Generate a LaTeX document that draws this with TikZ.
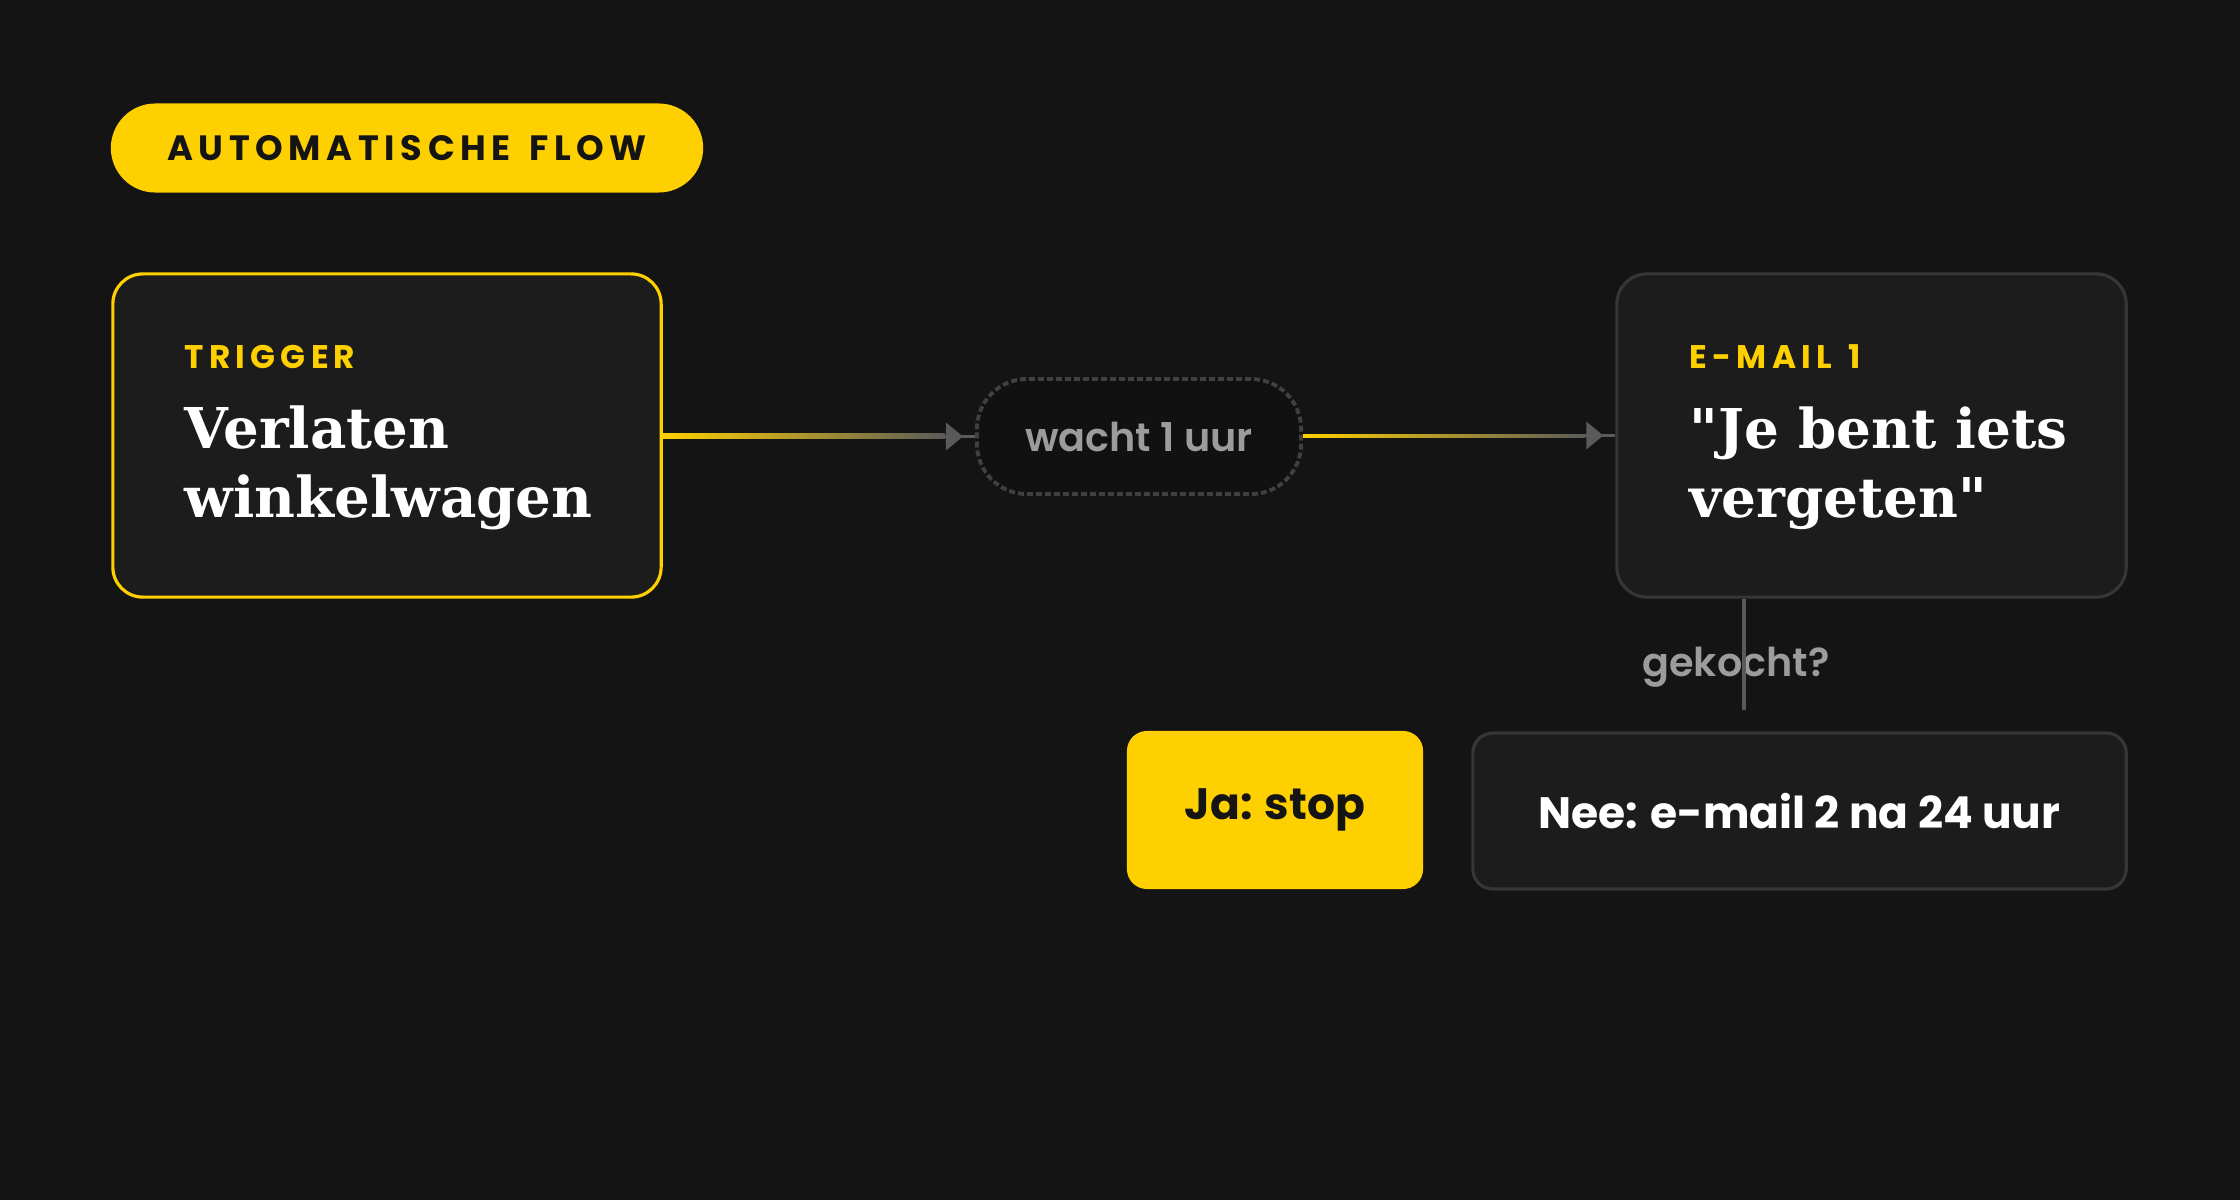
\documentclass[tikz,border=0pt]{standalone}
\usepackage{fontspec}
\setmainfont{DejaVu Serif}
\setsansfont{Poppins}
\newfontfamily\tagfont[LetterSpace=16,WordSpace=1.4]{Poppins}
\newfontfamily\midfont{Poppins}[UprightFont=* SemiBold]
\usetikzlibrary{arrows.meta}
\definecolor{bg}{HTML}{141414}
\definecolor{cardfill}{HTML}{1C1C1C}
\definecolor{pillfill}{HTML}{111111}
\definecolor{accent}{HTML}{FFD000}
\definecolor{rim}{HTML}{363636}
\definecolor{muted}{HTML}{9C9C9C}
\definecolor{wire}{HTML}{5A5A5A}
\definecolor{dashrim}{HTML}{404040}
\definecolor{ink}{HTML}{141414}
\tikzstyle{cardbox} = [rectangle, rounded corners=0.3cm, fill=cardfill, draw=rim, line width=0.9pt]
\tikzstyle{tagtext} = [anchor=base west, inner sep=0pt, text=accent, font=\tagfont\bfseries\fontsize{9.3}{11}\selectfont]
\tikzstyle{headtext} = [anchor=base west, text=white, font=\bfseries\fontsize{16}{19.6}\selectfont, align=left, inner sep=0pt]
\tikzstyle{answer} = [rectangle, rounded corners=0.2cm, font=\sffamily\bfseries\fontsize{12.5}{15}\selectfont]
\tikzstyle{flow} = [wire, line width=1.1pt, -{Triangle[length=0.17cm,width=0.27cm]}]

\begin{document}
\begin{tikzpicture}[x=0.01cm, y=-0.01cm]
  \fill[bg] (0,0) rectangle (2240,1200);
  \useasboundingbox (0,0) rectangle (2240,1200);

  % header badge
  \node (badge) [rectangle, rounded corners=0.445cm, fill=accent, minimum width=5.92cm, minimum height=0.89cm,
    text=ink, font=\tagfont\bfseries\fontsize{10}{12}\selectfont] at (407,148) {AUTOMATISCHE FLOW};

  % cards
  \node (trig) [cardbox, draw=accent, minimum width=5.48cm, minimum height=3.23cm] at (387,435.5) {};
  \node (trigtag) [tagtext] at (184,368) {TRIGGER};
  \node (trigtitle) [headtext] at (184,517) {Verlaten\\winkelwagen};

  \node (wait) [rectangle, rounded corners=0.5cm, fill=pillfill, draw=dashrim, dash pattern=on 0.06cm off 0.03cm,
    line width=1.1pt, minimum width=3.24cm, minimum height=1.15cm, text=muted,
    font=\midfont\fontsize{11.3}{13}\selectfont] at (1139,436.5) {wacht 1 uur};

  \node (mail) [cardbox, minimum width=5.09cm, minimum height=3.23cm] at (1871.5,435.5) {};
  \node (mailtag) [tagtext] at (1689,368) {E-MAIL 1};
  \node (mailtitle) [headtext, font=\bfseries\fontsize{15.6}{19.6}\selectfont] at (1689,517) {\textquotedbl Je bent iets\\vergeten\textquotedbl};

  \node (ja) [answer, fill=accent, text=ink, minimum width=2.96cm, minimum height=1.58cm] at (1275,810) {Ja: stop};
  \node (nee) [answer, fill=cardfill, draw=rim, line width=0.9pt, text=white,
    minimum width=6.53cm, minimum height=1.56cm] at (1799.5,811) {Nee: e-mail 2 na 24 uur};

  % connectors
  \shade[left color=accent, right color=wire] ([yshift=0.02cm]trig.east) rectangle ([xshift=-0.3cm,yshift=-0.02cm]wait.west);
  \draw[flow] ([xshift=-0.3cm]wait.west) -- ([xshift=-0.12cm]wait.west);
  \draw[wire, line width=1.1pt] ([xshift=-0.14cm]wait.west) -- (wait.west);
  \shade[left color=accent, right color=wire] ([yshift=0.02cm]wait.east) rectangle ([xshift=-0.3cm,yshift=-0.02cm]mail.west);
  \draw[flow] ([xshift=-0.3cm]mail.west) -- ([xshift=-0.12cm]mail.west);
  \draw[wire, line width=1.1pt] ([xshift=-0.14cm]mail.west) -- (mail.west);

  \node (ask) [text=muted, font=\midfont\fontsize{11.3}{13}\selectfont] at (1736,667) {gekocht?};
  \coordinate (askend) at (1744,710);
  \draw[wire, line width=1.1pt] (mail.south -| askend) -- (askend);
\end{tikzpicture}
\end{document}
